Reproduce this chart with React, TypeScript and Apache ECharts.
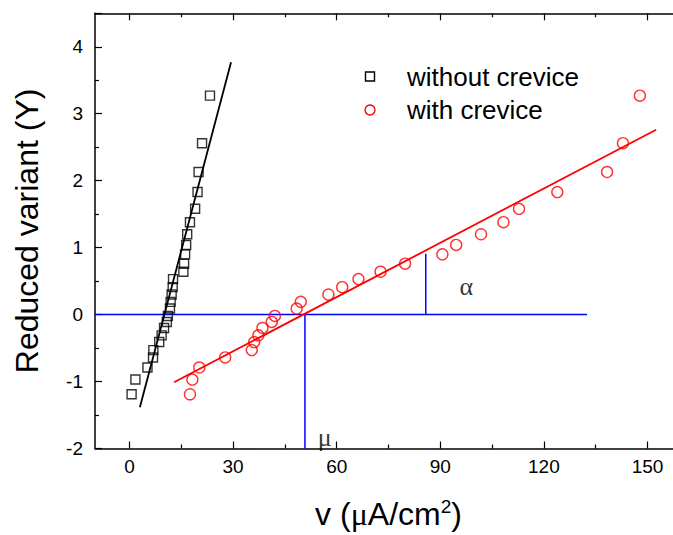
import React, { useEffect, useRef } from "react";
import * as echarts from "echarts";

// Reduced variate (Y) values shared by both data sets
const reducedY = [3.27, 2.56, 2.13, 1.83, 1.58, 1.38, 1.2, 1.04, 0.9, 0.76, 0.64, 0.53, 0.41, 0.3, 0.19, 0.09, -0.02, -0.11, -0.2, -0.31, -0.41, -0.53, -0.64, -0.79, -0.97, -1.19];
// v values, without crevice (squares)
const withoutX = [23.3, 21.0, 20.0, 19.7, 19.0, 17.5, 16.7, 16.4, 16.1, 15.8, 15.6, 12.6, 12.5, 12.2, 11.9, 11.7, 11.1, 10.8, 10.0, 9.3, 8.6, 6.9, 6.8, 5.2, 1.7, 0.6];
// v values, with crevice (circles)
const withX = [147.8, 142.9, 138.3, 123.9, 112.8, 108.3, 101.8, 94.6, 90.6, 79.8, 72.7, 66.3, 61.6, 57.6, 49.6, 48.4, 42.1, 41.2, 38.5, 37.3, 36.1, 35.4, 27.7, 20.2, 18.2, 17.5];

// fitted lines (end points)
const fitWithout = [[3.0, -1.385], [29.4, 3.77]];
const fitWith = [[12.9, -1.01], [152.5, 2.76]];

// blue construction lines
const zeroLine = [[-10, 0], [132.5, 0]];
const muLine = [[50.8, 0], [50.8, -2]];
const alphaLine = [[85.8, 0], [85.8, 0.91]];

// annotation labels
const annotations = [
  { name: "α", value: [97.5, 0.42] },
  { name: "μ", value: [56.5, -1.84] },
];

const xMajorTicks = [0, 30, 60, 90, 120, 150];
const xMinorTicks = [15, 45, 75, 105, 135];
const legendNames = ["without crevice", "with crevice"];

const FONT = "Arial, 'Liberation Sans', Helvetica, sans-serif";
const SERIF = "'Liberation Serif', 'DejaVu Serif', serif";

export default function App() {
  const ref = useRef<HTMLDivElement>(null);

  useEffect(() => {
    if (!ref.current) return;
    const chart = echarts.init(ref.current, undefined, { renderer: "svg" });
    const axisLine = { show: true, onZero: false, lineStyle: { color: "#000", width: 1.5 } };
    const hiddenLine = { show: false, onZero: false };
    const baseX = { type: "value", min: -10, max: 160, gridIndex: 0, splitLine: { show: false } };
    chart.setOption({
      animation: false,
      backgroundColor: "#fff",
      grid: { left: 95, top: 13.3, width: 587, height: 438.7 },
      xAxis: [
        {
          ...baseX,
          position: "bottom",
          axisLine,
          axisTick: { show: true, inside: true, length: 7, customValues: xMajorTicks, lineStyle: { color: "#000", width: 1.2 } },
          axisLabel: { customValues: xMajorTicks, margin: 8, fontSize: 19, color: "#000", fontFamily: FONT },
          name: "v ({mu|μ}A/cm{sup|2})",
          nameLocation: "middle",
          nameGap: 48,
          nameTextStyle: {
            fontSize: 32,
            color: "#000",
            fontFamily: FONT,
            rich: {
              mu: { fontSize: 32, fontFamily: SERIF, color: "#000" },
              sup: { fontSize: 19, color: "#000", fontFamily: FONT, padding: [0, 0, 16, 0] },
            },
          },
        },
        {
          ...baseX,
          position: "bottom",
          axisLine: hiddenLine,
          axisTick: { show: true, inside: true, length: 4, customValues: xMinorTicks, lineStyle: { color: "#000", width: 1.2 } },
          axisLabel: { show: false },
        },
        {
          ...baseX,
          position: "top",
          axisLine,
          axisTick: { show: true, inside: true, length: 7, customValues: xMajorTicks, lineStyle: { color: "#000", width: 1.2 } },
          axisLabel: { show: false },
        },
        {
          ...baseX,
          position: "top",
          axisLine: hiddenLine,
          axisTick: { show: true, inside: true, length: 4, customValues: xMinorTicks, lineStyle: { color: "#000", width: 1.2 } },
          axisLabel: { show: false },
        },
      ],
      yAxis: [
        {
          type: "value",
          min: -2,
          max: 4.5,
          interval: 1,
          position: "left",
          axisLine,
          axisTick: { show: true, inside: true, length: 7, lineStyle: { color: "#000", width: 1.2 } },
          minorTick: { show: true, splitNumber: 2, length: 4, lineStyle: { color: "#000", width: 1.2 } },
          axisLabel: { showMaxLabel: false, margin: 12, fontSize: 19, color: "#000", fontFamily: FONT },
          splitLine: { show: false },
          name: "Reduced variant (Y)",
          nameLocation: "middle",
          nameGap: 52,
          nameTextStyle: { fontSize: 32, color: "#000", fontFamily: FONT },
        },
      ],
      series: [
        {
          type: "line",
          data: zeroLine,
          symbol: "none",
          lineStyle: { color: "#0000ff", width: 1.5 },
          z: 1,
        },
        {
          type: "line",
          data: muLine,
          symbol: "none",
          lineStyle: { color: "#0000ff", width: 1.5 },
          z: 1,
        },
        {
          type: "line",
          data: alphaLine,
          symbol: "none",
          lineStyle: { color: "#0000ff", width: 1.5 },
          z: 1,
        },
        {
          type: "line",
          data: fitWithout,
          symbol: "none",
          lineStyle: { color: "#000", width: 1.8 },
          z: 2,
        },
        {
          type: "line",
          data: fitWith,
          symbol: "none",
          lineStyle: { color: "#ff0000", width: 1.8 },
          z: 2,
        },
        {
          name: legendNames[0],
          type: "scatter",
          data: withoutX.map((x, i) => [x, reducedY[i]]),
          symbol: "rect",
          symbolSize: 9,
          itemStyle: { color: "rgba(0,0,0,0)", borderColor: "#000", borderWidth: 1.4 },
          z: 3,
        },
        {
          name: legendNames[1],
          type: "scatter",
          data: withX.map((x, i) => [x, reducedY[i]]),
          symbol: "circle",
          symbolSize: 11,
          itemStyle: { color: "rgba(0,0,0,0)", borderColor: "#ff0000", borderWidth: 1.4 },
          z: 3,
        },
        {
          type: "scatter",
          data: annotations,
          symbolSize: 1,
          itemStyle: { color: "rgba(0,0,0,0)" },
          label: {
            show: true,
            position: "inside",
            formatter: "{b}",
            fontSize: 26,
            color: "#000",
            textBorderWidth: 0,
            fontFamily: SERIF,
          },
          z: 4,
        },
      ],
      graphic: [
        {
          type: "rect",
          shape: { x: 365.5, y: 72, width: 9, height: 9 },
          style: { fill: "none", stroke: "#000", lineWidth: 1.4 },
        },
        {
          type: "text",
          x: 407,
          y: 77,
          style: { text: legendNames[0], fontSize: 26, fill: "#000", fontFamily: FONT, verticalAlign: "middle", align: "left" },
        },
        {
          type: "circle",
          shape: { cx: 370, cy: 110, r: 5 },
          style: { fill: "none", stroke: "#ff0000", lineWidth: 1.4 },
        },
        {
          type: "text",
          x: 407,
          y: 110,
          style: { text: legendNames[1], fontSize: 26, fill: "#000", fontFamily: FONT, verticalAlign: "middle", align: "left" },
        },
      ],
    });
    return () => chart.dispose();
  }, []);

  return (
    <div style={{ position: "absolute", left: 0, top: 0, width: 673, height: 535, overflow: "hidden", background: "#fff" }}>
      <div ref={ref} style={{ width: 700, height: 535 }} />
    </div>
  );
}
